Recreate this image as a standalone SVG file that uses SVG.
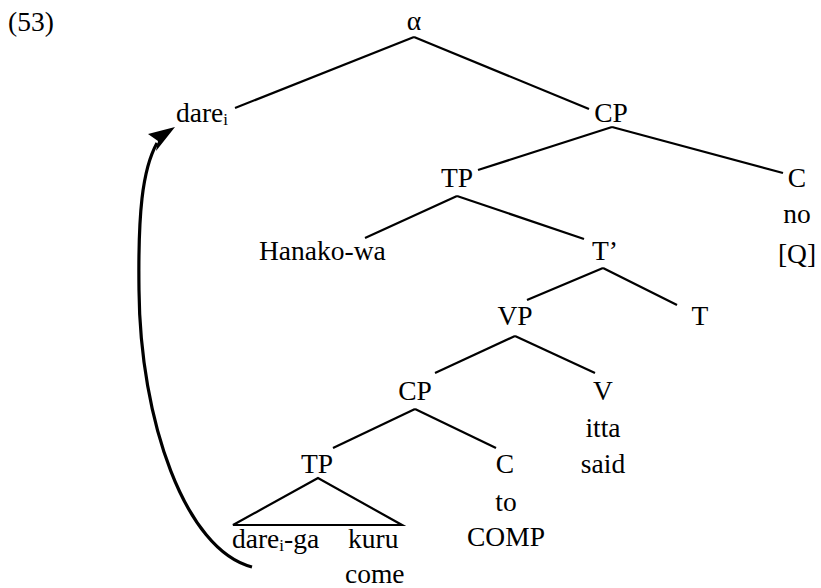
<svg xmlns="http://www.w3.org/2000/svg" width="821" height="588" viewBox="0 0 821 588" font-family="'Liberation Serif', 'Times New Roman', 'DejaVu Serif', serif">
  <style>
    text { font-family: 'Liberation Serif', 'Times New Roman', 'DejaVu Serif', serif; font-size: 27.5px; fill: #000; }
    .c { text-anchor: middle; }
    .sub { font-size: 17px; }
    .edge { stroke: #000; stroke-width: 2.2; fill: none; stroke-linecap: butt; }
    .move { stroke: #000; stroke-width: 3.2; fill: none; }
  </style>

  <rect width="821" height="588" fill="#fff"/>

  <text x="8" y="31">(53)</text>

  <!-- tree edges -->
  <g id="connectors">
    <line class="edge" x1="414" y1="37" x2="235" y2="108"/>
    <line class="edge" x1="414" y1="37" x2="589" y2="109"/>
    <line class="edge" x1="612" y1="127" x2="478" y2="170"/>
    <line class="edge" x1="612" y1="127" x2="783" y2="173"/>
    <line class="edge" x1="457" y1="196" x2="365" y2="238"/>
    <line class="edge" x1="457" y1="196" x2="584" y2="239"/>
    <line class="edge" x1="603" y1="268" x2="527" y2="300"/>
    <line class="edge" x1="603" y1="268" x2="677" y2="305"/>
    <line class="edge" x1="515" y1="336" x2="435" y2="373"/>
    <line class="edge" x1="515" y1="336" x2="595" y2="373"/>
    <line class="edge" x1="415" y1="409" x2="333" y2="448"/>
    <line class="edge" x1="415" y1="409" x2="496" y2="448"/>
    <polygon class="edge" points="318,478 233,525 402,525"/>
    <!-- movement arrow: curve plus solid head -->
    <path class="move" d="M252,567 C185,550 140,420 139,290 C138,215 142,170 157,143"/>
    <polygon points="175,127 156,151 158,141 148,134" fill="#000"/>
  </g>

  <g id="alpha"><text class="c" x="414" y="30">α</text></g>
  <g id="dare"><text x="176" y="122">dare<tspan class="sub" dy="3">i</tspan></text></g>
  <g id="cp-top"><text class="c" x="611" y="122">CP</text></g>
  <g id="tp-top"><text class="c" x="457" y="187">TP</text></g>
  <g id="c-top">
    <text class="c" x="797" y="187">C</text>
    <text class="c" x="797" y="223">no</text>
    <text class="c" x="797" y="263">[Q]</text>
  </g>
  <g id="hanako"><text x="259" y="260">Hanako-wa</text></g>
  <g id="t-bar"><text class="c" x="605" y="260">T’</text></g>
  <g id="t-head"><text class="c" x="700" y="325">T</text></g>
  <g id="vp"><text class="c" x="515" y="325">VP</text></g>
  <g id="cp-low"><text class="c" x="415" y="400">CP</text></g>
  <g id="v-head">
    <text class="c" x="603" y="400">V</text>
    <text class="c" x="603" y="437">itta</text>
    <text class="c" x="603" y="473">said</text>
  </g>
  <g id="tp-low"><text class="c" x="317" y="473">TP</text></g>
  <g id="c-low">
    <text class="c" x="505" y="473">C</text>
    <text class="c" x="506" y="511">to</text>
    <text class="c" x="506" y="546">COMP</text>
  </g>
  <g id="embedded">
    <text x="232" y="548">dare<tspan class="sub" dy="3">i</tspan><tspan dy="-3">-ga</tspan></text>
    <text x="348" y="548">kuru</text>
    <text x="345" y="583">come</text>
  </g>
</svg>
